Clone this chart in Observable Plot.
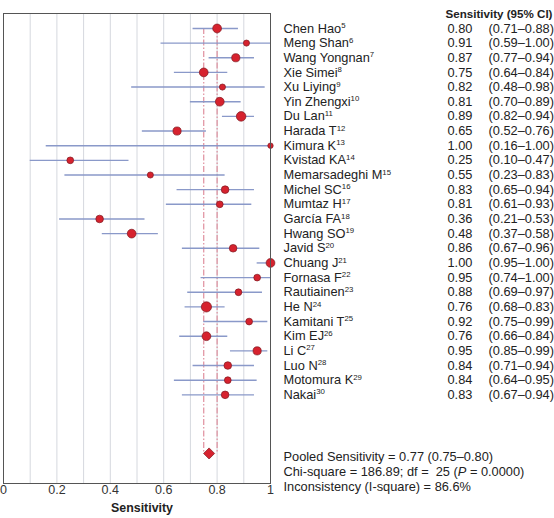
<!DOCTYPE html>
<html><head><meta charset="utf-8">
<script src="https://cdn.jsdelivr.net/npm/d3@7"></script>
<script src="https://cdn.jsdelivr.net/npm/@observablehq/plot@0.6"></script>
<style>
html,body{margin:0;padding:0;background:#fff;}
</style></head><body><div id="chart"></div>
<script>
const studies = ["Chen Hao","Meng Shan","Wang Yongnan","Xie Simei","Xu Liying","Yin Zhengxi","Du Lan","Harada T","Kimura K","Kvistad KA","Memarsadeghi M","Michel SC","Mumtaz H","García FA","Hwang SO","Javid S","Chuang J","Fornasa F","Rautiainen","He N","Kamitani T","Kim EJ","Li C","Luo N","Motomura K","Nakai"];
const refs = [5,6,7,8,9,10,11,12,13,14,15,16,17,18,19,20,21,22,23,24,25,26,27,28,29,30];
const sensitivity = [0.80,0.91,0.87,0.75,0.82,0.81,0.89,0.65,1.00,0.25,0.55,0.83,0.81,0.36,0.48,0.86,1.00,0.95,0.88,0.76,0.92,0.76,0.95,0.84,0.84,0.83];
const ciLow = [0.71,0.59,0.77,0.64,0.48,0.70,0.82,0.52,0.16,0.10,0.23,0.65,0.61,0.21,0.37,0.67,0.95,0.74,0.69,0.68,0.75,0.66,0.85,0.71,0.64,0.67];
const ciHigh = [0.88,1.00,0.94,0.84,0.98,0.89,0.94,0.76,1.00,0.47,0.83,0.94,0.93,0.53,0.58,0.96,1.00,1.00,0.97,0.83,0.99,0.84,0.99,0.94,0.95,0.94];
// relative study weights
const weights = [18.5,9,16,18.5,9,18.5,22,16,7,11,9,14,11,14,18.5,14,18.5,11,11,25,11,18.5,16,14,11,14];
const pooledEstimate = 0.77, pooledLow = 0.75, pooledHigh = 0.80;
const chiSquare = "186.89", degreesFreedom = 25, pValue = "0.0000", iSquare = "86.6";
const xTicks = [0, 0.2, 0.4, 0.6, 0.8, 1];
const gridValues = [0.1,0.2,0.3,0.4,0.5,0.6,0.7,0.8,0.9];

const rows = studies.map((name, i) => ({name, ref: refs[i], sens: sensitivity[i], lo: ciLow[i], hi: ciHigh[i], w: weights[i], row: i}));
const pooledRow = studies.length + 3;
const pooled = [{est: pooledEstimate, row: pooledRow}];
const summary = [
  `Pooled Sensitivity = ${pooledEstimate.toFixed(2)} (${pooledLow.toFixed(2)}–${pooledHigh.toFixed(2)})`,
  `Chi-square = ${chiSquare}; df =  ${degreesFreedom} (P = ${pValue})`,
  `Inconsistency (I-square) = ${iSquare}%`
];
const font = "'Liberation Sans', Arial, Helvetica, sans-serif";
const ink = "#222";

const chart = Plot.plot({
  width: 554, height: 518,
  marginLeft: 3, marginRight: 284, marginTop: 13, marginBottom: 35,
  style: {fontFamily: font, fontSize: "12.8px", color: ink, background: "#fff", overflow: "visible"},
  x: {domain: [0, 1], axis: null},
  y: {domain: [-1.02, 31.05], reverse: true, axis: null},
  r: {type: "sqrt", domain: [0, 25], range: [0, 5.1]},
  marks: [
    Plot.ruleX(gridValues, {stroke: "#d5d8de", strokeWidth: 1}),
    Plot.ruleX([pooledLow, pooledHigh], {y2: pooledRow, stroke: "#dc8494", strokeWidth: 1.1, strokeDasharray: "6,2,1.5,2"}),
    Plot.ruleY(rows, {y: "row", x1: "lo", x2: "hi", stroke: "#8a99c9", strokeWidth: 1.4}),
    Plot.dot(rows, {x: "sens", y: "row", r: "w", fill: "#d6222e", stroke: "#7e1820", strokeWidth: 0.7}),
    Plot.dot(pooled, {x: "est", y: "row", symbol: "diamond2", r: 5, fill: "#d6222e", stroke: "#7e1820", strokeWidth: 0.7}),
    Plot.frame({stroke: "#555", strokeWidth: 1}),
    // x tick labels & title
    Plot.text(xTicks, {x: d => d, text: d => String(d), frameAnchor: "bottom", dy: 10, fontSize: 12.5, fill: "#333"}),
    Plot.text(["Sensitivity"], {frameAnchor: "bottom", dy: 28, dx: 5, fontSize: 12.4, fontWeight: "bold", fill: ink}),
    // table
    Plot.text(["Sensitivity (95% CI)"], {frameAnchor: "top-right", textAnchor: "end", dx: 282, dy: -3.5, fontSize: 11.6, fontWeight: "bold", fill: ink}),
    Plot.text(rows, {y: "row", text: "name", frameAnchor: "right", textAnchor: "start", dx: 13, fill: ink}),
    Plot.text(rows, {y: "row", text: d => d.sens.toFixed(2), frameAnchor: "right", textAnchor: "start", dx: 177, fill: ink}),
    Plot.text(rows, {y: "row", text: d => `(${d.lo.toFixed(2)}–${d.hi.toFixed(2)})`, frameAnchor: "right", textAnchor: "start", dx: 218, fill: ink}),
    Plot.text(summary.slice(0,1), {frameAnchor: "bottom-right", textAnchor: "start", dx: 13, dy: -23, fill: ink}),
    Plot.text(summary.slice(1,2), {frameAnchor: "bottom-right", textAnchor: "start", dx: 13, dy: -8, fill: ink}),
    Plot.text(summary.slice(2,3), {frameAnchor: "bottom-right", textAnchor: "start", dx: 13, dy: 7, fill: ink})
  ]
});
document.getElementById("chart").appendChild(chart);

// superscript reference numbers and italic P
const refByName = new Map(rows.map(d => [d.name, d.ref]));
d3.select(chart).selectAll("text").each(function() {
  const t = this.textContent;
  const sel = d3.select(this);
  if (refByName.has(t)) {
    sel.append("tspan").attr("dy", "-4.5").attr("font-size", "7.8px").text(refByName.get(t));
  } else if (t.startsWith("Chi-square")) {
    const [pre, post] = t.split("(P");
    sel.text(null).style("white-space", "pre");
    sel.append("tspan").text(pre + "(");
    sel.append("tspan").attr("font-style", "italic").text("P");
    sel.append("tspan").text(post);
  }
});
</script></body></html>
